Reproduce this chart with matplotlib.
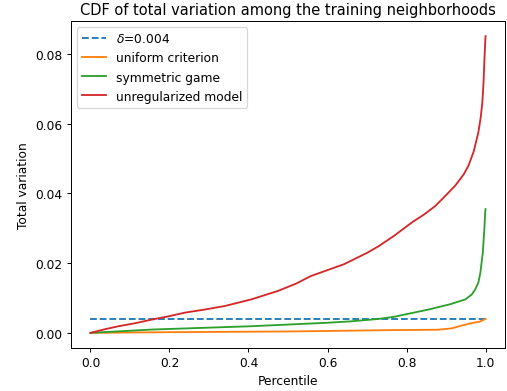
import matplotlib
matplotlib.use("Agg")
import matplotlib.pyplot as plt

delta = 0.004
delta_x = [0.0, 1.0]

red_x = [0, 0.035, 0.071, 0.11, 0.155, 0.2, 0.239, 0.29, 0.34, 0.407, 0.474, 0.52, 0.558, 0.6, 0.642, 0.701, 0.73, 0.768,
         0.814, 0.845, 0.873, 0.9, 0.923, 0.945, 0.957, 0.97, 0.982, 0.988, 0.992, 0.995, 0.997, 0.999, 1.0]
red_y = [0, 0.0010, 0.0019, 0.0027, 0.0038, 0.0048, 0.0058, 0.0067, 0.0077, 0.0096, 0.0120, 0.0141, 0.0163, 0.0180, 0.0197, 0.0230, 0.0249, 0.0278,
         0.0317, 0.0340, 0.0364, 0.0395, 0.0422, 0.0455, 0.0480, 0.0520, 0.0576, 0.0620, 0.0662, 0.0720, 0.0780, 0.0830, 0.0851]

green_x = [0, 0.155, 0.407, 0.6, 0.659, 0.73, 0.768, 0.856, 0.91, 0.949, 0.965, 0.974, 0.982, 0.987, 0.993, 0.996, 0.998, 0.999, 1.0]
green_y = [0, 0.00095, 0.0019, 0.0029, 0.0033, 0.0040, 0.0046, 0.0067, 0.0082, 0.0096, 0.0110, 0.0125, 0.0145, 0.0173, 0.0230, 0.0280, 0.0320, 0.0345, 0.0355]

orange_x = [0, 0.2, 0.5, 0.768, 0.88, 0.915, 0.94, 0.96, 0.985, 1.0]
orange_y = [0, 0.0002, 0.0004, 0.0008, 0.0009, 0.0013, 0.0021, 0.0027, 0.0032, 0.0040]

labels = [r"$\delta$=0.004", "uniform criterion", "symmetric game", "unregularized model"]

dpi = 88
fig = plt.figure(figsize=(507 / dpi, 392 / dpi), dpi=dpi)
ax = fig.add_axes([70.7 / 507, (392 - 348.7) / 392, 434.6 / 507, 326.4 / 392])

ax.plot(delta_x, [delta] * len(delta_x), "--", color="C0", label=labels[0])
ax.plot(orange_x, orange_y, color="C1", label=labels[1])
ax.plot(green_x, green_y, color="C2", label=labels[2])
ax.plot(red_x, red_y, color="C3", label=labels[3])

ax.set_yticks([0.0, 0.02, 0.04, 0.06, 0.08])
ax.set_xlabel("Percentile")
ax.set_ylabel("Total variation")
ax.set_title("CDF of total variation among the training neighborhoods")
ax.legend(loc="upper left")

fig.savefig("out.png", dpi=dpi)
